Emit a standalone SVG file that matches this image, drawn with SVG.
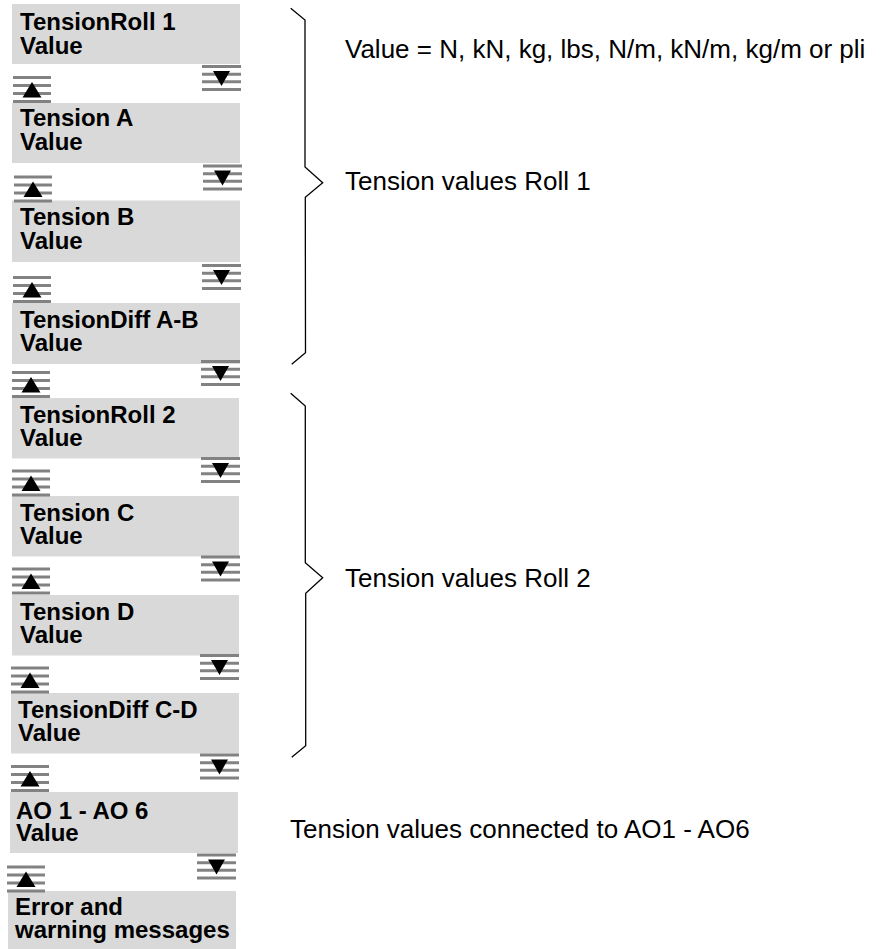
<svg xmlns="http://www.w3.org/2000/svg" xmlns:xlink="http://www.w3.org/1999/xlink" width="888" height="949" viewBox="0 0 888 949">
<style>
.box{fill:#d9d9d9;stroke:none}
.lbl{font-family:"Liberation Sans",Arial,sans-serif;font-weight:bold;font-size:24px;fill:#000}
.note{font-family:"Liberation Sans",Arial,sans-serif;font-size:26px;fill:#000}
.bar{stroke:#828282;stroke-width:3;fill:none}
.tri{fill:#000}
.brace{fill:none;stroke:#000;stroke-width:1.3;stroke-linejoin:miter}
</style>
<defs>
<g id="up">
<path class="bar" d="M0,0H38M0,8H38M0,16H38M0,24H38"/>
<polygon class="tri" points="19,4.5 9.5,20 28.5,20"/>
</g>
<g id="down">
<path class="bar" d="M0,0H39M0,7.7H39M0,15.3H39M0,23H39"/>
<polygon class="tri" points="11,4.5 28,4.5 19.5,19.5"/>
</g>
</defs>
<rect width="888" height="949" fill="#fff"/>

<g id="n1"><rect class="box" x="12" y="4" width="228" height="60"/><text class="lbl" x="20" y="30">TensionRoll 1</text><text class="lbl" x="20" y="54">Value</text></g>
<g id="n2"><rect class="box" x="12" y="103" width="228" height="60"/><text class="lbl" x="20" y="126">Tension A</text><text class="lbl" x="20" y="150">Value</text></g>
<g id="n3"><rect class="box" x="12" y="200.5" width="228" height="61.5"/><text class="lbl" x="20" y="225">Tension B</text><text class="lbl" x="20" y="249">Value</text></g>
<g id="n4"><rect class="box" x="12" y="303" width="228" height="61"/><text class="lbl" x="20" y="328">TensionDiff A-B</text><text class="lbl" x="20" y="351">Value</text></g>
<g id="n5"><rect class="box" x="12" y="398" width="227" height="60.5"/><text class="lbl" x="20" y="423">TensionRoll 2</text><text class="lbl" x="20" y="446">Value</text></g>
<g id="n6"><rect class="box" x="12" y="496" width="227" height="60.5"/><text class="lbl" x="20" y="521">Tension C</text><text class="lbl" x="20" y="544">Value</text></g>
<g id="n7"><rect class="box" x="12" y="595" width="227" height="60.5"/><text class="lbl" x="20" y="620">Tension D</text><text class="lbl" x="20" y="643">Value</text></g>
<g id="n8"><rect class="box" x="11" y="693" width="228" height="60.5"/><text class="lbl" x="18" y="718">TensionDiff C-D</text><text class="lbl" x="18" y="741">Value</text></g>
<g id="n9"><rect class="box" x="10" y="792" width="228" height="61"/><text class="lbl" x="16" y="819">AO 1 - AO 6</text><text class="lbl" x="16" y="841">Value</text></g>
<g id="n10"><rect class="box" x="8" y="891" width="228" height="58"/><text class="lbl" x="15" y="915">Error and</text><text class="lbl" x="15" y="938">warning messages</text></g>

<g id="scroll-icons">
<use xlink:href="#down" href="#down" x="202" y="66.5"/><use xlink:href="#up" href="#up" x="13" y="77.5"/>
<use xlink:href="#down" href="#down" x="203" y="166"/><use xlink:href="#up" href="#up" x="14" y="177"/>
<use xlink:href="#down" href="#down" x="202" y="265.5"/><use xlink:href="#up" href="#up" x="13" y="277.5"/>
<use xlink:href="#down" href="#down" x="201" y="361.5"/><use xlink:href="#up" href="#up" x="12" y="372.5"/>
<use xlink:href="#down" href="#down" x="201" y="458.5"/><use xlink:href="#up" href="#up" x="12" y="471"/>
<use xlink:href="#down" href="#down" x="201" y="557"/><use xlink:href="#up" href="#up" x="12" y="569"/>
<use xlink:href="#down" href="#down" x="200" y="655.5"/><use xlink:href="#up" href="#up" x="11" y="668"/>
<use xlink:href="#down" href="#down" x="200" y="755"/><use xlink:href="#up" href="#up" x="11" y="766.5"/>
<use xlink:href="#down" href="#down" x="197" y="855"/><use xlink:href="#up" href="#up" x="7" y="867"/>
</g>

<g id="connectors">
<path class="brace" d="M290.7,8.3 L305,20 L305,167 L322.7,182.7 L305.3,197.3 L305.5,352.7 L291.7,364.3"/>
<path class="brace" d="M290.7,393.3 L305.3,406 L305.3,562.7 L322.7,577.7 L305.7,593.3 L305.7,745.7 L291.7,757.3"/>
</g>

<g id="notes">
<text class="note" x="345" y="58">Value = N, kN, kg, lbs, N/m, kN/m, kg/m or pli</text>
<text class="note" x="345" y="190">Tension values Roll 1</text>
<text class="note" x="345" y="587">Tension values Roll 2</text>
<text class="note" x="290" y="838">Tension values connected to AO1 - AO6</text>
</g>
</svg>
